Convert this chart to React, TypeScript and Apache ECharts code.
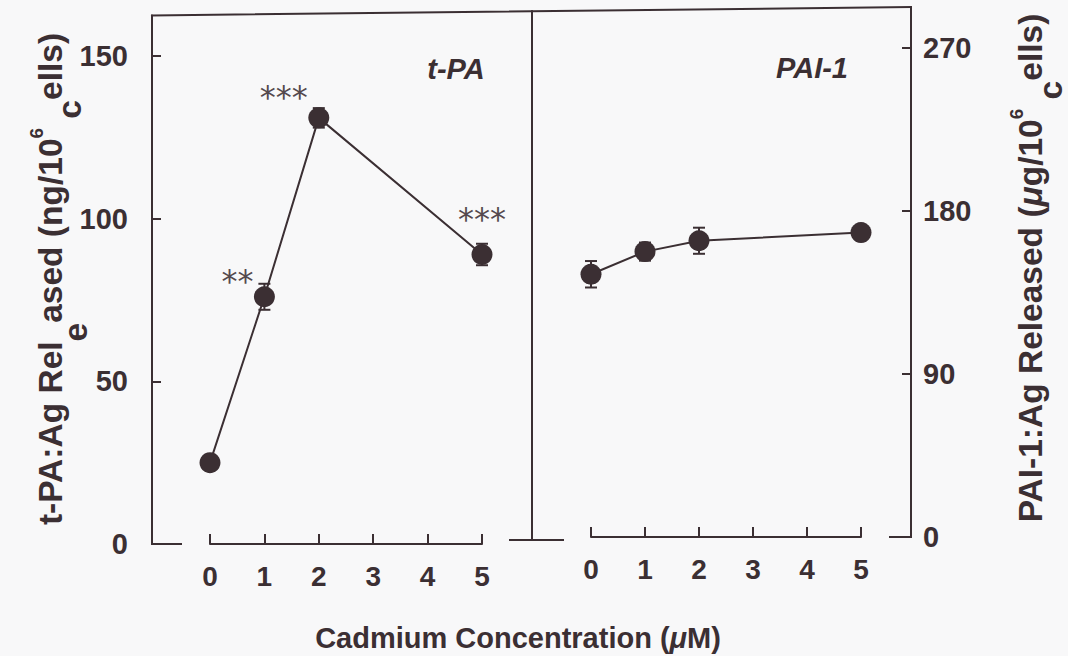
import React, { useEffect, useRef } from "react";
import * as echarts from "echarts";

// Cadmium concentrations (µM) at which release was measured
const concentrations = [0, 1, 2, 5];

// t-PA antigen released (ng/10^6 cells), mean and error
const tpaRelease = [25, 76, 131, 89];
const tpaError = [1.5, 4, 3, 3.3];
const tpaSignificance = ["", "**", "***", "***"];

// PAI-1 antigen released (µg/10^6 cells), mean and error
const pai1Release = [145, 157.5, 163.5, 168];
const pai1Error = [7.3, 5, 7.2, 3];

// Axis tick values
const xTicks = [0, 1, 2, 3, 4, 5];
const tpaTicks = [0, 50, 100, 150];
const pai1Ticks = [0, 90, 180, 270];
const tpaMax = 162.5;
const pai1Max = 292.5;

// Layout and style
const INK = "#3b2f33";
const STAR = "#54494d";
const BG = "#f8f8f9";
const FONT = '"Liberation Sans", Arial, Helvetica, sans-serif';
const W = 1068;
const H = 656;

const leftGrid = { left: 210, right: W - 482, top: 15.4, bottom: H - 544 };
const rightGrid = { left: 591, right: W - 861, top: 7, bottom: H - 537 };
const leftAxisX = 152;
const rightAxisX = 911;
const dividerX = 532;
const starOffsets: [number, number][] = [
  [0, 0],
  [-27, -16],
  [-35, -21],
  [0, -35],
];

const lineStyle = { color: INK, width: 2 };

function xAxisFor(gridIndex: number) {
  return {
    type: "value" as const,
    gridIndex,
    min: xTicks[0],
    max: xTicks[xTicks.length - 1],
    interval: 1,
    axisLine: { show: true, onZero: false, lineStyle },
    axisTick: { show: true, inside: true, length: 10, customValues: xTicks, lineStyle },
    axisLabel: {
      customValues: xTicks,
      color: INK,
      fontSize: 28,
      fontWeight: "bold" as const,
      fontFamily: FONT,
      margin: 18,
    },
    splitLine: { show: false },
  };
}

function errorBars(values: number[], errors: number[], axisIndex: number) {
  return {
    type: "custom" as const,
    xAxisIndex: axisIndex,
    yAxisIndex: axisIndex,
    z: 1,
    clip: false,
    silent: true,
    encode: { x: 0, y: 1 },
    data: concentrations.map((c, i) => [c, values[i], errors[i]]),
    renderItem: (_params: any, api: any) => {
      const x = api.value(0);
      const y = api.value(1);
      const e = api.value(2);
      const top = api.coord([x, y + e]);
      const bot = api.coord([x, y - e]);
      const hw = 6;
      const style = { stroke: INK, lineWidth: 2 };
      return {
        type: "group",
        children: [
          { type: "line", shape: { x1: top[0], y1: top[1], x2: bot[0], y2: bot[1] }, style },
          { type: "line", shape: { x1: top[0] - hw, y1: top[1], x2: top[0] + hw, y2: top[1] }, style },
          { type: "line", shape: { x1: bot[0] - hw, y1: bot[1], x2: bot[0] + hw, y2: bot[1] }, style },
        ],
      };
    },
  };
}

function frameLine(x1: number, y1: number, x2: number, y2: number) {
  return {
    type: "line" as const,
    silent: true,
    shape: { x1, y1, x2, y2 },
    style: { stroke: INK, lineWidth: 2, lineCap: "square" as const },
  };
}

// Rotated axis titles: a few letters sit below the line of text
const TITLE_SIZE = 33.5;
const TOK = 32;
const base = { fontSize: TITLE_SIZE, fontWeight: "bold", fontFamily: FONT, fill: INK, height: TOK, lineHeight: TOK, verticalAlign: "top" };
const droppedBottom = (d: number) => ({ ...base, height: TOK, lineHeight: TOK + d, verticalAlign: "bottom" });
const droppedTop = (d: number) => ({ ...base, height: TOK + 2 * d, lineHeight: TOK, verticalAlign: "top" });
const sup = { fontSize: 19, fontWeight: "bold", fontFamily: FONT, fill: INK, height: 4, lineHeight: 4, verticalAlign: "top" };
const mu = { ...base, fontStyle: "italic" };

function axisTitle(x: number, y: number, text: string, rich: Record<string, any>) {
  return {
    type: "text" as const,
    x,
    y,
    rotation: Math.PI / 2,
    silent: true,
    style: { text, align: "center", verticalAlign: "middle", rich },
  };
}

function panelLabel(x: number, y: number, text: string) {
  return {
    type: "text" as const,
    x,
    y,
    silent: true,
    style: {
      text,
      fontSize: 29,
      fontWeight: "bold",
      fontStyle: "italic",
      fontFamily: FONT,
      fill: INK,
      align: "center",
      verticalAlign: "middle",
    },
  };
}

function buildOption() {
  const dividerTop = leftGrid.top + ((dividerX - leftAxisX) / (rightAxisX - leftAxisX)) * (rightGrid.top - leftGrid.top);
  const yLabel = { color: INK, fontSize: 29, fontWeight: "bold", fontFamily: FONT };
  return {
    animation: false,
    backgroundColor: BG,
    grid: [
      { ...leftGrid, containLabel: false },
      { ...rightGrid, containLabel: false },
    ],
    xAxis: [xAxisFor(0), xAxisFor(1)],
    yAxis: [
      {
        type: "value",
        gridIndex: 0,
        position: "left",
        offset: leftGrid.left - leftAxisX,
        min: 0,
        max: tpaMax,
        interval: 50,
        axisLine: { show: true, onZero: false, lineStyle },
        axisTick: { show: true, inside: true, length: 9, customValues: tpaTicks, lineStyle },
        axisLabel: { ...yLabel, customValues: tpaTicks, margin: 24 },
        splitLine: { show: false },
      },
      {
        type: "value",
        gridIndex: 1,
        position: "right",
        offset: rightAxisX - (W - rightGrid.right),
        min: 0,
        max: pai1Max,
        interval: 90,
        axisLine: { show: true, onZero: false, lineStyle },
        axisTick: { show: true, inside: true, length: 9, customValues: pai1Ticks, lineStyle },
        axisLabel: { ...yLabel, customValues: pai1Ticks, margin: 12 },
        splitLine: { show: false },
      },
    ],
    series: [
      errorBars(tpaRelease, tpaError, 0),
      {
        type: "line",
        xAxisIndex: 0,
        yAxisIndex: 0,
        symbol: "circle",
        symbolSize: 21,
        showAllSymbol: true,
        itemStyle: { color: INK },
        lineStyle: { color: INK, width: 2 },
        emphasis: { disabled: true },
        label: {
          show: true,
          position: "inside",
          fontFamily: '"DejaVu Sans", sans-serif',
          fontSize: 32,
          fontWeight: "normal",
          color: STAR,
        },
        data: concentrations.map((c, i) => ({
          value: [c, tpaRelease[i]],
          label: {
            show: tpaSignificance[i] !== "",
            formatter: tpaSignificance[i],
            offset: starOffsets[i],
          },
        })),
      },
      errorBars(pai1Release, pai1Error, 1),
      {
        type: "line",
        xAxisIndex: 1,
        yAxisIndex: 1,
        symbol: "circle",
        symbolSize: 21,
        showAllSymbol: true,
        itemStyle: { color: INK },
        lineStyle: { color: INK, width: 2 },
        emphasis: { disabled: true },
        data: concentrations.map((c, i) => [c, pai1Release[i]]),
      },
    ],
    graphic: [
      // panel frame: top edge, central divider with its foot, and the short baseline stubs
      frameLine(leftAxisX, leftGrid.top, rightAxisX, rightGrid.top),
      frameLine(dividerX, dividerTop, dividerX, 540),
      frameLine(dividerX - 22, 540, dividerX + 31, 540),
      frameLine(leftAxisX, H - leftGrid.bottom, leftAxisX + 29, H - leftGrid.bottom),
      frameLine(rightAxisX - 21, H - rightGrid.bottom, rightAxisX, H - rightGrid.bottom),
      panelLabel(456, 69, "t-PA"),
      panelLabel(812, 68, "PAI-1"),
      axisTitle(
        62.5,
        279,
        "{b|t-PA:Ag Rel}{lo1|e}{b|ased (ng/10}{sup|6}{b| }{lo2|c}{b|ells)}",
        { b: base, lo1: droppedBottom(25), lo2: droppedTop(19), sup }
      ),
      axisTitle(
        1040,
        268,
        "{b|PAI-1:Ag Released (}{mu|\u03bc}{b|g/10}{sup|6}{b| }{lo|c}{b|ells)}",
        { b: base, lo: droppedBottom(20), sup, mu }
      ),
      {
        type: "text",
        x: 518,
        y: 638,
        silent: true,
        style: {
          text: "{b|Cadmium Concentration (}{mu|\u03bc}{b|M)}",
          align: "center",
          verticalAlign: "middle",
          rich: {
            b: { fontSize: 29, fontWeight: "bold", fontFamily: FONT, fill: INK },
            mu: { fontSize: 29, fontWeight: "bold", fontStyle: "italic", fontFamily: FONT, fill: INK },
          },
        },
      },
    ],
  };
}

export default function App() {
  const ref = useRef<HTMLDivElement>(null);
  useEffect(() => {
    if (!ref.current) return;
    const chart = echarts.init(ref.current, null, { renderer: "svg" });
    chart.setOption(buildOption() as any);
    return () => chart.dispose();
  }, []);
  return (
    <div
      ref={ref}
      style={{ position: "fixed", left: 0, top: 0, width: W, height: H }}
    />
  );
}
